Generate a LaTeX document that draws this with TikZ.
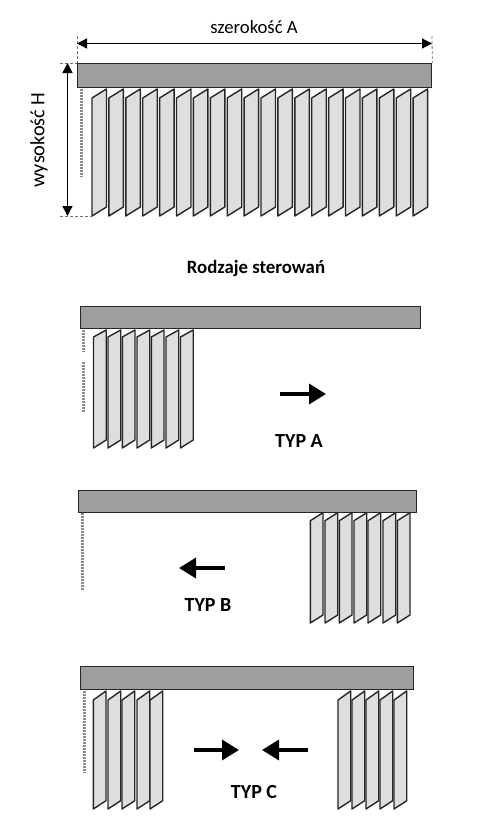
\documentclass[tikz,border=0pt]{standalone}
\usepackage{fontspec}
\setmainfont{Carlito}
\usetikzlibrary{arrows.meta}
\tikzset{
  headbox/.style={draw=black!85, line width=1.3pt, fill=black!38, anchor=north west, inner sep=0pt},
  slatbox/.style={draw=black!85, line width=1.4pt, fill=black!13, line join=round},
  chainline/.style={draw=black!45, line width=3pt, dash pattern=on 2pt off 1pt},
  dimline/.style={draw=black, line width=1.3pt, {Triangle[length=10pt,width=10pt]}-{Triangle[length=10pt,width=10pt]}},
  helpline/.style={draw=black!55, line width=.8pt, densely dashed},
  movearrow/.style={draw=black, line width=3.4pt, -{Triangle[length=17pt,width=20pt]}},
  typlabel/.style={font=\fontsize{20}{22}\selectfont\bfseries},
}
\begin{document}
\begin{tikzpicture}[x=1pt,y=-1pt]
\useasboundingbox (0,0) rectangle (478,827);
% top blind with dimensions
\node[headbox, minimum width=354pt, minimum height=24pt] (headmain) at (77,63) {};
\foreach \x in {0,...,19}
  \draw[slatbox] ({92+16.9*\x},98) -- ({106.5+16.9*\x},89) -- ({106.5+16.9*\x},207) -- ({92+16.9*\x},216) -- cycle;
\coordinate (chainmaintop) at (81,89);
\coordinate (chainmainend) at (81,177);
\draw[chainline] (chainmaintop) -- (chainmainend);
\coordinate (widthleft) at (77,43.5);
\coordinate (widthright) at (432,43.5);
\coordinate (widthleftup) at (77,36);
\coordinate (widthrightup) at (432,36);
\draw[helpline] (widthleftup) -- (headmain.north west);
\draw[helpline] (widthrightup) -- (headmain.north east);
\draw[dimline] (widthleft) -- (widthright);
\coordinate (heighttop) at (67.5,63);
\coordinate (heightend) at (67.5,216);
\coordinate (heightleft) at (60,63);
\coordinate (heightlow) at (60,216);
\coordinate (heightslat) at (92,216);
\draw[helpline] (heightleft) -- (headmain.north west);
\draw[helpline] (heightlow) -- (heightslat);
\draw[dimline] (heighttop) -- (heightend);
\node[font=\fontsize{18.7}{21}\selectfont] (widthlabel) at (254,27) {szerokość A};
\node[font=\fontsize{20.3}{23}\selectfont, rotate=90] (heightlabel) at (39,140) {wysokość H};
\node[font=\fontsize{18.8}{21}\selectfont\bfseries] (title) at (256,268) {Rodzaje sterowań};
% type A
\node[headbox, minimum width=340pt, minimum height=22.5pt] (heada) at (80,305.5) {};
\foreach \x in {93.5,108,122.3,137,151.3,166,180.5}
  \draw[slatbox] (\x,337) -- (\x+12.7,330) -- (\x+12.7,440) -- (\x,448) -- cycle;
\coordinate (chainatop) at (83.5,330);
\coordinate (chainamid) at (83.5,352);
\coordinate (chainanext) at (83.5,362);
\coordinate (chainaend) at (83.5,412);
\draw[chainline] (chainatop) -- (chainamid);
\draw[chainline] (chainanext) -- (chainaend);
\coordinate (arrowastart) at (280,394);
\coordinate (arrowaend) at (326,394);
\draw[movearrow] (arrowastart) -- (arrowaend);
\node[typlabel] (typa) at (299,441) {TYP A};
% type B
\node[headbox, minimum width=338pt, minimum height=21.5pt] (headb) at (78,490) {};
\foreach \x in {310.3,325,339.3,354,368,383,397.3}
  \draw[slatbox] (\x,520.7) -- (\x+12.7,512.7) -- (\x+12.7,615) -- (\x,623) -- cycle;
\coordinate (chainbtop) at (82,513);
\coordinate (chainbend) at (82,590);
\draw[chainline] (chainbtop) -- (chainbend);
\coordinate (arrowbstart) at (225,568);
\coordinate (arrowbend) at (179,568);
\draw[movearrow] (arrowbstart) -- (arrowbend);
\node[typlabel] (typb) at (208,605) {TYP B};
% type C
\node[headbox, minimum width=333pt, minimum height=23pt] (headc) at (80,666) {};
\foreach \x in {93.3,108,122,137,150,338,352,366,380,394}
  \draw[slatbox] (\x,700) -- (\x+12.7,691) -- (\x+12.7,800.7) -- (\x,809) -- cycle;
\coordinate (chainctop) at (84,691);
\coordinate (chaincend) at (84,773);
\draw[chainline] (chainctop) -- (chaincend);
\coordinate (arrowcleft) at (194,750);
\coordinate (arrowcmidl) at (239,750);
\coordinate (arrowcright) at (308,750);
\coordinate (arrowcmidr) at (262,750);
\draw[movearrow] (arrowcleft) -- (arrowcmidl);
\draw[movearrow] (arrowcright) -- (arrowcmidr);
\node[typlabel] (typc) at (254,792) {TYP C};
\end{tikzpicture}
\end{document}
